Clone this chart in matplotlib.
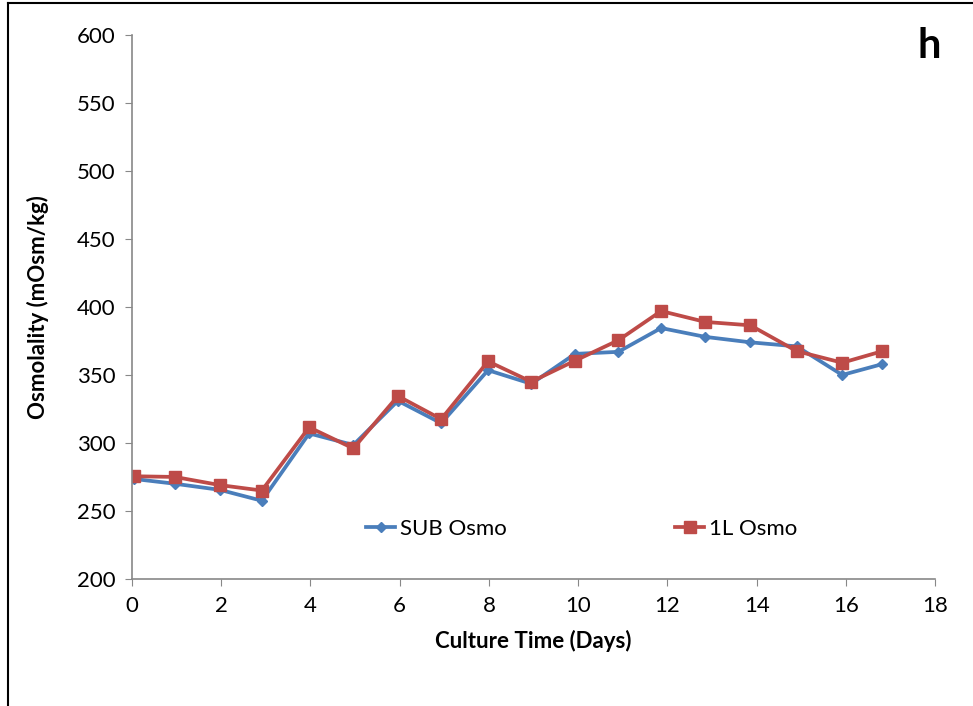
import matplotlib.pyplot as plt
from matplotlib.lines import Line2D

# culture day readings for the two runs
days_sub = [0.05, 0.96, 1.97, 2.91, 3.97, 4.96, 5.96, 6.93, 7.98, 8.95,
            9.93, 10.9, 11.86, 12.85, 13.86, 14.9, 15.92, 16.82]
osmo_sub = [273.5, 270, 265.5, 257.5, 307, 298.5, 331, 314.5, 353.5, 343.5,
            365.5, 367, 384.5, 378, 374, 371, 350, 358]

days_1l = days_sub
osmo_1l = [275.5, 275, 269, 265, 311.5, 296, 334.5, 317.5, 360, 345,
           360.5, 375.5, 397, 389, 386.5, 367.5, 359, 367.5]

x_ticks = list(range(0, 19, 2))
y_ticks = list(range(200, 601, 50))

plt.rcParams['font.family'] = ['Lato', 'DejaVu Sans']

fig = plt.figure(figsize=(9.73, 7.06), dpi=100)
ax = fig.add_axes([0.1357, 0.18, 0.8253, 0.7704])

blue = '#4a7ebb'
red = '#be4b48'
ax.plot(days_sub, osmo_sub, color=blue, lw=2.7, marker='D', ms=5.5,
        label='SUB Osmo')
ax.plot(days_1l, osmo_1l, color=red, lw=2.7, marker='s', ms=8,
        label='1L Osmo')

ax.set_xlim(0, 18)
ax.set_ylim(200, 600)
ax.set_xticks(x_ticks)
ax.set_yticks(y_ticks)
ax.tick_params(labelsize=16, color='#888888', length=5, direction='out',
               pad=7)
for side in ['top', 'right']:
    ax.spines[side].set_visible(False)
for side in ['left', 'bottom']:
    ax.spines[side].set_color('#888888')
    ax.spines[side].set_linewidth(1.2)

ax.set_xlabel('Culture Time (Days)', fontsize=16, fontweight='bold', labelpad=10)
ax.set_ylabel('Osmolality (mOsm/kg)', fontsize=16, fontweight='bold', labelpad=20)

handles = [Line2D([], [], color=blue, lw=2.7, marker='D', ms=5.5),
           Line2D([], [], color=red, lw=2.7, marker='s', ms=8)]
ax.legend(handles, ['SUB Osmo', '1L Osmo'], loc='center', ncol=2,
          bbox_to_anchor=(0.56, 0.092), frameon=False, fontsize=16,
          columnspacing=7.6, handlelength=1.3, handletextpad=0.2)

fig.text(0.967, 0.935, 'h', fontsize=30, fontweight='bold', ha='right',
         va='center')

# outer border of the panel (left and top edges show)
fig.add_artist(Line2D([0.008, 0.008], [0, 0.996], color='black', lw=1.5,
                      transform=fig.transFigure))
fig.add_artist(Line2D([0.008, 1], [0.996, 0.996], color='black', lw=1.5,
                      transform=fig.transFigure))

fig.savefig('out.png', dpi=100)
